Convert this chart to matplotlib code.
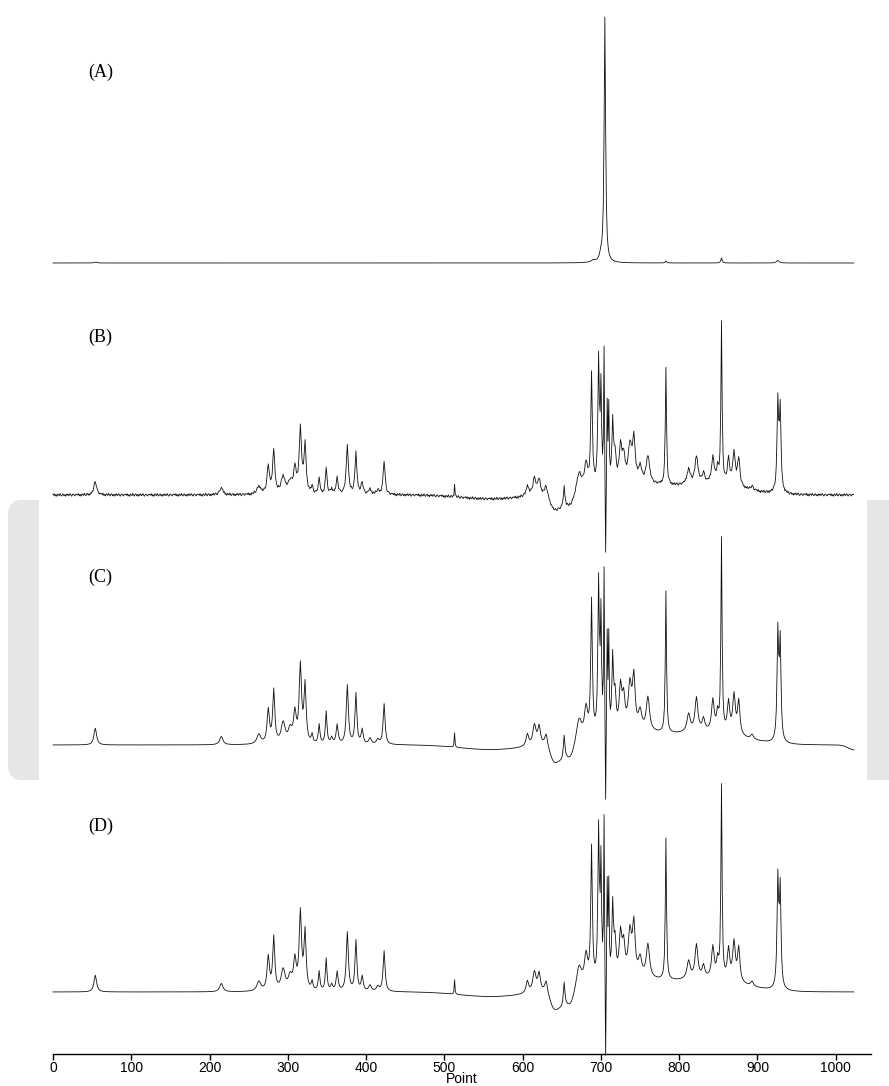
import numpy as np
import matplotlib
matplotlib.use("Agg")
import matplotlib.pyplot as plt
from matplotlib.patches import FancyBboxPatch, Rectangle

# spectrum axis: 1024 points
points = np.arange(1024)

# panel labels and vertical offsets (baseline position, px above the axis line)
panel_labels = ["(A)", "(B)", "(C)", "(D)"]
panel_offsets = [791, 559, 309, 62]

# (A) single dominant peak: centre, height, half width
a_centres = [54, 690, 700, 705, 783, 854, 926]
a_heights = [0.8, 2.0, 6.0, 245, 2.0, 5.0, 2.5]
a_widths = [2.0, 3.0, 2.0, 1.1, 1.0, 1.0, 2.0]

# (B) peak list: centre, height, half width
b_centres = [54, 215, 263, 275, 282, 294, 303, 309, 316, 322, 331, 340, 349,
             356, 363, 376, 387, 395, 405, 415, 423, 513,
             606, 615, 621, 630, 653, 672, 681, 688, 697, 700, 704,
             708, 710, 715, 718, 725, 729, 737, 742, 750, 760, 783,
             812, 822, 831, 843, 849, 854, 863, 870, 876, 893, 926, 929]
b_heights = [14, 7, 8, 28, 44, 17, 11, 24, 64, 48, 7, 16, 27,
             5, 16, 49, 42, 12, 5, 4, 34, 12,
             10, 17, 15, 10, 20, 18, 24, 112, 125, 95, 135,
             80, 75, 60, 28, 35, 25, 36, 42, 15, 28, 118,
             15, 28, 10, 26, 14, 160, 25, 32, 28, 4, 90, 82]
b_widths = [2.0, 2.5, 3.0, 1.8, 1.6, 3.0, 3.0, 2.0, 1.8, 1.6, 1.2, 1.2, 1.2,
            1.5, 1.5, 1.6, 1.4, 1.5, 2.0, 2.0, 1.5, 0.5,
            2.0, 2.5, 2.0, 2.0, 1.2, 4.0, 2.5, 1.2, 1.1, 0.9, 0.6,
            0.6, 0.6, 1.2, 1.5, 2.0, 2.0, 2.5, 2.0, 2.5, 2.5, 0.9,
            2.5, 2.2, 2.0, 2.0, 1.5, 0.9, 1.8, 2.0, 1.8, 2.0, 1.2, 1.2]

# negative (dispersive) spike at 706: centre, half width, depth per panel (B, C, D)
spike_centre, spike_width = 706, 0.6
spike_depths = [-90, -95, -104]

# broad baseline features: centre, amplitude, sigma
broad_centres = [560, 640, 650, 661, 740, 840]
broad_amps = [-4, -14, -12, -13, 10, 10]
broad_sigmas = [40, 5, 5, 5, 40, 40]

# baseline ripple of (B), px
b_ripple = [0.8, -0.5, 1.2, -1.0, 0.3, -1.4, 0.9, 0.1, -0.7, 1.5, -0.2, -1.1,
            0.6, 1.0, -0.9, 0.4, -1.3, 0.7, -0.4, 1.1, -0.8, 0.2, 1.3, -0.6,
            -1.2, 0.5, 0.9, -0.3, -1.0, 0.6, 0.2]

# (C)/(D) are the smoothed versions, drawn 1.2x taller
cd_scale = 1.2
c_tail_centre, c_tail_amp, c_tail_sigma = 1024, -5, 8


def lorentz(x, c, h, w):
    return h / (1 + ((x - c) / w) ** 2)


def build(centres, heights, widths):
    y = np.zeros(len(points))
    for c, h, w in zip(centres, heights, widths):
        y += lorentz(points, c, h, w)
    return y


broad = np.zeros(len(points))
for c, a, s in zip(broad_centres, broad_amps, broad_sigmas):
    broad += a * np.exp(-(points - c) ** 2 / (2 * s ** 2))

spec_a = build(a_centres, a_heights, a_widths)
spec_clean = build(b_centres, b_heights, b_widths) + broad
ripple = np.resize(np.array(b_ripple), len(points))
spec_b = spec_clean + ripple + lorentz(points, spike_centre, spike_depths[0], spike_width)
spec_c = (spec_clean * cd_scale + lorentz(points, spike_centre, spike_depths[1], spike_width)
          + c_tail_amp * np.exp(-(points - c_tail_centre) ** 2 / (2 * c_tail_sigma ** 2)))
spec_d = spec_clean * cd_scale + lorentz(points, spike_centre, spike_depths[2], spike_width)
spectra = [spec_a, spec_b, spec_c, spec_d]

fig = plt.figure(figsize=(8.89, 10.86), dpi=100)

# grey band behind the page
fig.patches.append(FancyBboxPatch((8 / 889, 306 / 1086), 900 / 889, 280 / 1086,
                                  boxstyle="round,pad=0,rounding_size=0.015",
                                  transform=fig.transFigure, facecolor="#e6e6e6",
                                  edgecolor="none", zorder=0))
fig.patches.append(Rectangle((39 / 889, 0), 828 / 889, 1, transform=fig.transFigure,
                             facecolor="white", edgecolor="none", zorder=1))

ax = fig.add_axes([53 / 889, 32 / 1086, 818 / 889, 1054 / 1086])
ax.set_zorder(5)
ax.patch.set_alpha(0)

for spec, off, lab, ypx in zip(spectra, panel_offsets, panel_labels, [72, 337, 577, 826]):
    ax.plot(points, spec + off, color="#111111", lw=0.6, clip_on=False)
    ax.text(45, 1054 - ypx, lab, family="Liberation Serif", fontsize=13, va="center")

ax.set_xlim(0, 1045)
ax.set_ylim(0, 1054)
for s in ["left", "right", "top"]:
    ax.spines[s].set_visible(False)
ax.spines["bottom"].set_linewidth(1.0)
ax.set_yticks([])
ax.set_xticks(np.arange(0, 1001, 100))
ax.tick_params(axis="x", length=4, width=1, pad=1, labelsize=10)
for t in ax.get_xticklabels():
    t.set_family("Liberation Sans")
ax.set_xlabel("Point", family="Liberation Sans", fontsize=10, labelpad=-2)

fig.savefig("out.png", dpi=100)
